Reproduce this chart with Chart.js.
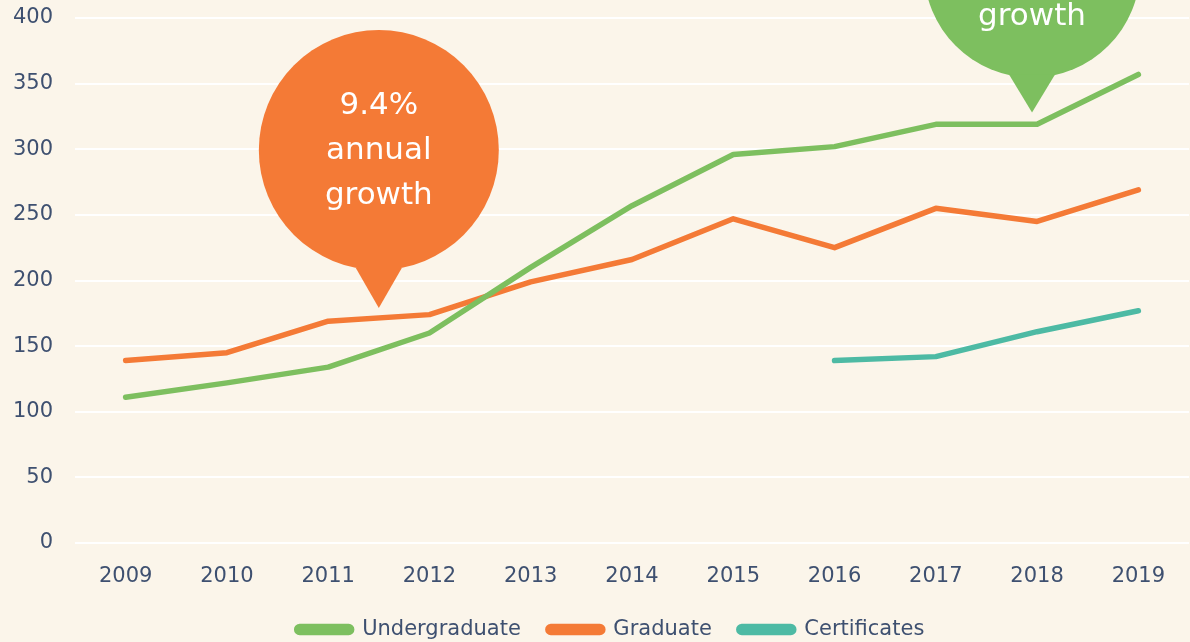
<!DOCTYPE html>
<html>
<head>
<meta charset="utf-8">
<script src="https://cdn.jsdelivr.net/npm/chart.js@4.4.1/dist/chart.umd.min.js"></script>
<style>
  html, body { margin: 0; padding: 0; background: #fbf5ea; }
  #wrap { width: 1190px; height: 642px; position: relative; }
</style>
</head>
<body>
<div id="wrap"><canvas id="c" width="1190" height="642"></canvas></div>
<script>
const years = ['2009','2010','2011','2012','2013','2014','2015','2016','2017','2018','2019'];
const undergraduate = [111, 122, 134, 160, 210, 257, 296, 302, 319, 319, 357];
const graduate = [139, 145, 169, 174, 199, 216, 247, 225, 255, 245, 269];
const certificates = [null, null, null, null, null, null, null, 139, 142, 161, 177];
const yTicks = [0, 50, 100, 150, 200, 250, 300, 350, 400];

const GREEN = '#7dbf5f';
const ORANGE = '#f47a36';
const TEAL = '#4dbaa4';
const TEXT = '#3e5070';
const FONT = "'DejaVu Sans', sans-serif";

const callouts = [
  { color: ORANGE, tipX: 2.5, tipY: 179, dy: 158, r: 120, baseHalf: 23, baseDy: 40,
    lines: [['9.4%', -44], ['annual', 1], ['growth', 46]] },
  { color: GREEN, tipX: 8.95, tipY: 328, dy: 143, r: 108, baseHalf: 23, baseDy: 38,
    lines: [['growth', 47]] }
];

const bgPlugin = {
  id: 'bg',
  beforeDraw(chart) {
    const ctx = chart.ctx;
    ctx.save();
    ctx.fillStyle = '#fbf5ea';
    ctx.fillRect(0, 0, chart.width, chart.height);
    ctx.restore();
  }
};

const legendShift = {
  id: 'legendShift',
  afterLayout(chart) {
    if (chart.legend) {
      chart.legend.left += 16;
      chart.legend.right += 16;
      if (chart.legend.legendHitBoxes) chart.legend.legendHitBoxes.forEach(b => { b.left += 16; });
    }
  }
};

const calloutPlugin = {
  id: 'callouts',
  afterDatasetsDraw(chart) {
    const ctx = chart.ctx;
    const xs = chart.scales.x, ys = chart.scales.y;
    callouts.forEach(c => {
      const tx = xs.getPixelForValue(c.tipX);
      const ty = ys.getPixelForValue(c.tipY);
      const cx = tx, cy = ty - c.dy;
      ctx.save();
      ctx.fillStyle = c.color;
      ctx.beginPath();
      ctx.arc(cx, cy, c.r, 0, Math.PI * 2);
      ctx.fill();
      ctx.beginPath();
      ctx.moveTo(tx - c.baseHalf, ty - c.baseDy);
      ctx.lineTo(tx + c.baseHalf, ty - c.baseDy);
      ctx.lineTo(tx, ty);
      ctx.closePath();
      ctx.fill();
      ctx.fillStyle = '#ffffff';
      ctx.font = "31px " + FONT;
      ctx.textAlign = 'center';
      ctx.textBaseline = 'middle';
      c.lines.forEach(([t, off]) => ctx.fillText(t, cx, cy + off));
      ctx.restore();
    });
  }
};

new Chart(document.getElementById('c'), {
  type: 'line',
  data: {
    labels: years,
    datasets: [
      { label: 'Undergraduate', data: undergraduate, borderColor: GREEN, backgroundColor: GREEN },
      { label: 'Graduate', data: graduate, borderColor: ORANGE, backgroundColor: ORANGE },
      { label: 'Certificates', data: certificates, borderColor: TEAL, backgroundColor: TEAL }
    ]
  },
  options: {
    responsive: false,
    animation: false,
    devicePixelRatio: 1,
    layout: { padding: { top: 18, left: 0, right: 1, bottom: -8 } },
    elements: {
      line: { borderWidth: 5.5, tension: 0, borderCapStyle: 'round', borderJoinStyle: 'round' },
      point: { radius: 0, hoverRadius: 0 }
    },
    scales: {
      x: {
        offset: true,
        afterFit(s) { s.height = 49; s.paddingLeft = 0; s.paddingRight = 0; },
        grid: { display: false, drawTicks: false },
        border: { display: false },
        ticks: { color: TEXT, font: { family: FONT, size: 21 }, padding: 21 }
      },
      y: {
        min: 0, max: 400,
        afterFit(s) { s.width = 75; s.paddingTop = 0; s.paddingBottom = 0; },
        afterBuildTicks(s) { s.ticks = yTicks.map(v => ({ value: v })); },
        grid: { color: '#ffffff', lineWidth: 2, drawTicks: false },
        border: { display: false },
        ticks: { color: TEXT, font: { family: FONT, size: 21 }, padding: 22 }
      }
    },
    plugins: {
      tooltip: { enabled: false },
      legend: {
        position: 'bottom',
        labels: {
          color: TEXT,
          font: { family: FONT, size: 21 },
          boxWidth: 55, boxHeight: 6,
          useBorderRadius: true, borderRadius: 3,
          padding: 27
        }
      }
    }
  },
  plugins: [bgPlugin, legendShift, calloutPlugin]
});
</script>
</body>
</html>
